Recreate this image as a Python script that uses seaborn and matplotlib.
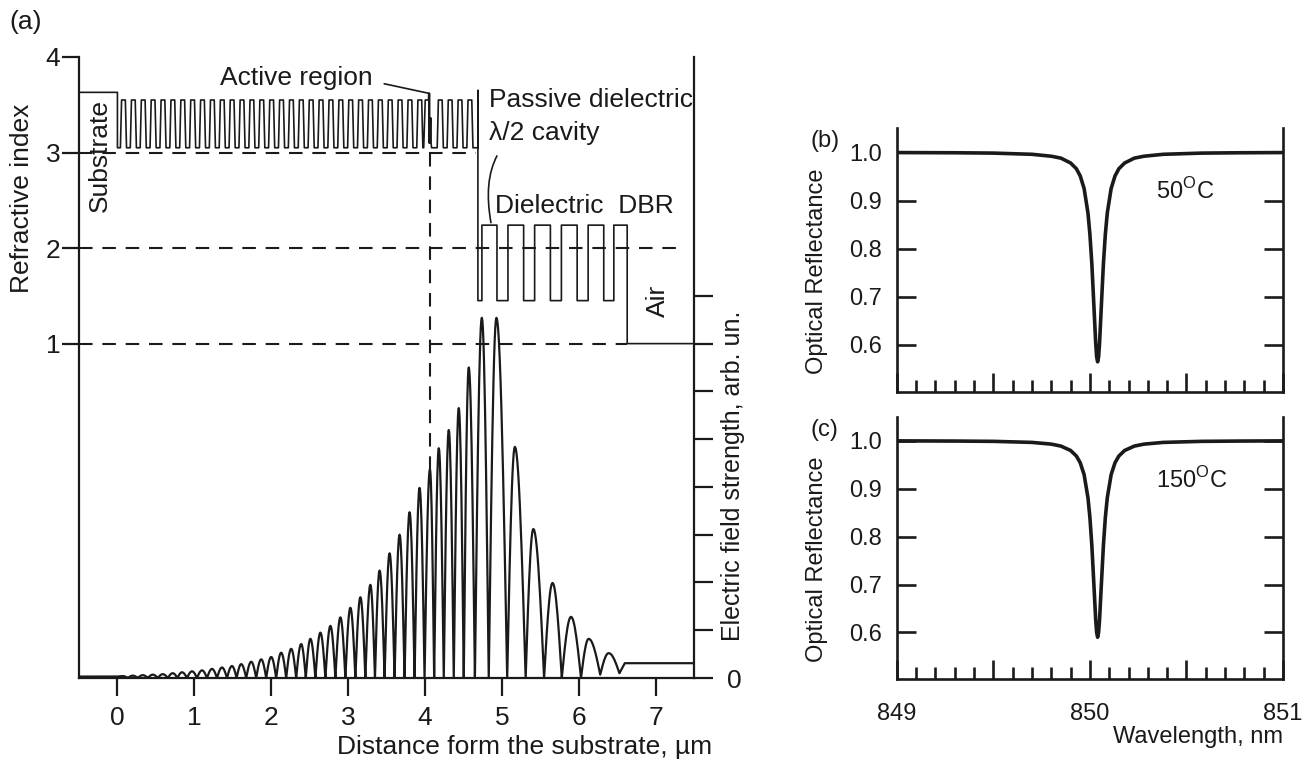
import numpy as np
import matplotlib
matplotlib.use("Agg")
import matplotlib.pyplot as plt
import seaborn as sns
from matplotlib.path import Path
from matplotlib.patches import PathPatch
from matplotlib.ticker import MultipleLocator

# ------------------------------------------------------------------ data
# (a) refractive-index profile (layer structure)
substrate_n = 3.63
substrate_end = 0.0
sc_dbr_high = 3.55
sc_dbr_low = 3.05
sc_dbr_period = 0.1285
sc_dbr_pairs_lower = 31
sc_dbr_pairs_upper = 4
upper_dbr_start = 4.121
active_x = [3.984, 4.004, 4.046, 4.050, 4.054, 4.058, 4.062, 4.062, 4.074, 4.074, 4.080,
            4.080, 4.086, 4.121]
active_n = [3.05, 3.55, 3.55, 3.62, 3.10, 3.62, 3.10, 3.30, 3.30, 3.36, 3.36, 3.10, 3.05,
            3.05]
cavity_x = 4.689
cavity_top_n = 3.65
diel_bounds = [4.689, 4.741, 4.937, 5.080, 5.284, 5.427, 5.632, 5.775, 5.980,
               6.123, 6.326, 6.457, 6.631]
diel_n = [1.45, 2.24, 1.45, 2.24, 1.45, 2.24, 1.45, 2.24, 1.45, 2.24, 1.45, 2.24]
air_n = 1.0
x_end = 7.5

# (a) electric field (right axis units, one tick = 1)
field_peak_x = [0.07, 0.20, 0.33, 0.46, 0.59, 0.72, 0.84, 0.97, 1.10, 1.23, 1.36, 1.49,
                1.61, 1.74, 1.87, 2.00, 2.13, 2.26, 2.39, 2.51, 2.64, 2.77, 2.90, 3.03,
                3.16, 3.29, 3.41, 3.54, 3.67, 3.80, 3.93, 4.065, 4.18, 4.31, 4.44, 4.57,
                4.74, 4.93, 5.17, 5.41, 5.66, 5.90, 6.13, 6.39]
field_peak_u = [0.04, 0.05, 0.06, 0.07, 0.08, 0.10, 0.12, 0.14, 0.16, 0.19, 0.22, 0.25,
                0.29, 0.34, 0.39, 0.44, 0.53, 0.61, 0.71, 0.82, 0.95, 1.09, 1.27, 1.47,
                1.69, 1.95, 2.25, 2.61, 3.00, 3.47, 3.98, 4.37, 4.81, 5.19, 5.65, 6.50,
                7.54, 7.54, 4.84, 3.12, 1.99, 1.28, 0.82, 0.52]
field_node_x = [0.00, 0.135, 0.265, 0.395, 0.525, 0.655, 0.78, 0.905, 1.035, 1.165, 1.295,
                1.425, 1.55, 1.675, 1.805, 1.935, 2.065, 2.195, 2.325, 2.45, 2.575, 2.705,
                2.835, 2.965, 3.095, 3.225, 3.35, 3.475, 3.605, 3.735, 3.865, 3.995, 4.12,
                4.245, 4.375, 4.505, 4.65, 4.83, 5.07, 5.31, 5.55, 5.78, 6.03, 6.28, 6.53]
field_node_u = [0.03] + [0.0] * 42 + [0.07, 0.10]
substrate_field_u = 0.03
tail_x = 6.60
tail_u = 0.31

x_ticks_a = [0, 1, 2, 3, 4, 5, 6, 7]
n_ticks = [1, 2, 3, 4]
field_ticks = [0, 1, 2, 3, 4, 5, 6, 7, 8]

# (b), (c) reflectance spectra
wl_b = [849.0, 849.3, 849.5, 849.7, 849.8, 849.85, 849.9, 849.93, 849.95, 849.97, 849.99,
        850.0, 850.01, 850.02, 850.03, 850.035, 850.04, 850.045, 850.05, 850.06, 850.07,
        850.08, 850.09, 850.11, 850.13, 850.15, 850.18, 850.23, 850.28, 850.38, 850.58,
        850.78, 851.0]
R_b = [0.9996, 0.9992, 0.9985, 0.996, 0.992, 0.988, 0.978, 0.966, 0.951, 0.925, 0.874,
       0.830, 0.769, 0.687, 0.604, 0.575, 0.565, 0.575, 0.604, 0.687, 0.769, 0.830, 0.874,
       0.925, 0.951, 0.966, 0.978, 0.988, 0.992, 0.996, 0.9985, 0.9992, 0.9996]
wl_c = list(wl_b)
R_c = [0.9996, 0.9992, 0.9986, 0.9964, 0.9928, 0.9887, 0.9796, 0.968, 0.9539, 0.9292,
       0.8808, 0.840, 0.7818, 0.705, 0.6265, 0.600, 0.590, 0.600, 0.6265, 0.705, 0.7818,
       0.840, 0.8808, 0.9292, 0.9539, 0.968, 0.9796, 0.9887, 0.9928, 0.9964, 0.9986,
       0.9992, 0.9996]
wl_major = [849, 849.5, 850, 850.5, 851]
wl_labels = ["849", "", "850", "", "851"]
R_ticks = [0.6, 0.7, 0.8, 0.9, 1.0]

# ------------------------------------------------------------------ style
sns.set_theme(style="ticks")
plt.rcParams["font.family"] = ["Liberation Sans", "DejaVu Sans"]
plt.rcParams["mathtext.fontset"] = "custom"
plt.rcParams["mathtext.rm"] = "Liberation Sans"
INK = "#1a1a1a"
W, H = 1308, 761
FA = 19   # font size panel (a)
FB = 17   # font size panels (b), (c)


def fx(px):
    return px / W


def fy(py):
    return 1 - py / H


fig = plt.figure(figsize=(W / 100, H / 100), dpi=100)
fig.patch.set_facecolor("white")

# ------------------------------------------------------------------ panel (a)
ax = fig.add_axes([fx(79), fy(678), (694 - 79) / W, (678 - 57) / H])
ax.set_facecolor("none")
ax.set_xlim(-0.5, x_end)
ax.set_ylim(-2.5, 4.0)


def dbr_vertices(x0, period, pairs, nh, nl):
    xs, ns = [], []
    for k in range(pairs):
        b = x0 + k * period
        for f, n in ((0.0, nl), (0.30, nl), (0.42, nh), (0.80, nh), (0.92, nl)):
            xs.append(b + f * period)
            ns.append(n)
    xs.append(x0 + pairs * period)
    ns.append(nl)
    return xs, ns


px_ = [-0.5, substrate_end, substrate_end]
pn_ = [substrate_n, substrate_n, sc_dbr_low]
lx, ln = dbr_vertices(substrate_end, sc_dbr_period, sc_dbr_pairs_lower, sc_dbr_high, sc_dbr_low)
px_ += lx
pn_ += ln
px_ += active_x
pn_ += active_n
ux, un = dbr_vertices(upper_dbr_start, sc_dbr_period, sc_dbr_pairs_upper, sc_dbr_high, sc_dbr_low)
px_ += ux
pn_ += un
px_ += [cavity_x, cavity_x, cavity_x]
pn_ += [sc_dbr_low, cavity_top_n, diel_n[0]]
for i in range(len(diel_n)):
    px_ += [diel_bounds[i], diel_bounds[i + 1]]
    pn_ += [diel_n[i], diel_n[i]]
px_ += [diel_bounds[-1], x_end]
pn_ += [air_n, air_n]

# dashed guides
dash = dict(color=INK, lw=1.5, dashes=(6.5, 4.7))
ax.plot([-0.5, 4.66], [3, 3], **dash)
ax.plot([-0.5, 7.3], [2, 2], **dash)
ax.plot([-0.5, diel_bounds[-1]], [1, 1], **dash)
peak_idx = field_peak_x.index(4.065)
ax.plot([4.065, 4.065], [3.0, -2.5 + 0.5 * field_peak_u[peak_idx]], **dash)

sns.lineplot(x=px_, y=pn_, ax=ax, sort=False, estimator=None, color=INK, linewidth=1.2)

# field curve on twin axis
axf = ax.twinx()
axf.set_ylim(0, 13)
fxs = [-0.5, field_node_x[0]]
fus = [substrate_field_u, field_node_u[0]]
t = np.linspace(0, 1, 14)[1:]
for i in range(len(field_peak_x)):
    n0, a = field_node_x[i], field_node_u[i]
    p, h = field_peak_x[i], field_peak_u[i]
    n1, b = field_node_x[i + 1], field_node_u[i + 1]
    fxs += list(n0 + (p - n0) * t)
    fus += list(a + (h - a) * np.sin(np.pi / 2 * t))
    fxs += list(p + (n1 - p) * t)
    fus += list(b + (h - b) * np.cos(np.pi / 2 * t))
fxs += [tail_x, x_end]
fus += [tail_u, tail_u]
sns.lineplot(x=fxs, y=fus, ax=axf, sort=False, estimator=None, color=INK, linewidth=1.6)

for s in ("top", "right"):
    ax.spines[s].set_visible(False)
for s in ("top", "left", "bottom"):
    axf.spines[s].set_visible(False)
for sp in (ax.spines["left"], ax.spines["bottom"], axf.spines["right"]):
    sp.set_linewidth(1.6)
    sp.set_color(INK)

ax.set_xticks(x_ticks_a)
ax.set_xticklabels([str(v) for v in x_ticks_a])
ax.set_yticks(n_ticks)
ax.set_yticklabels([str(v) for v in n_ticks])
ax.tick_params(axis="x", direction="out", length=13, width=1.6, pad=7, labelsize=FA, colors=INK)
ax.tick_params(axis="y", direction="out", length=12, width=1.6, pad=1.5, labelsize=FA, colors=INK)
axf.set_yticks(field_ticks)
axf.set_yticklabels(["0"] + [""] * (len(field_ticks) - 1))
axf.tick_params(axis="y", direction="out", length=13.5, width=1.6, pad=10, labelsize=FA, colors=INK)
ax.set_xlabel("")
ax.set_ylabel("")
axf.set_ylabel("")

# annotations (a)
ax.text(-0.235, 2.97, "Substrate", rotation=90, ha="center", va="center", fontsize=FA, color=INK)
ax.text(2.33, 3.78, "Active region", ha="center", va="center", fontsize=FA, color=INK)
ax.plot([3.47, 4.05], [3.72, 3.62], color=INK, lw=1.2)
ax.text(4.83, 3.55, "Passive dielectric", ha="left", va="center", fontsize=FA, color=INK)
ax.text(4.83, 3.20, "λ/2 cavity", ha="left", va="center", fontsize=FA, color=INK)
leader = Path([(4.94, 2.97), (4.76, 2.70), (4.86, 2.26)], [Path.MOVETO, Path.CURVE3, Path.CURVE3])
ax.add_patch(PathPatch(leader, fc="none", ec=INK, lw=1.2))
ax.text(4.91, 2.44, "Dielectric  DBR", ha="left", va="center", fontsize=FA, color=INK)
ax.text(7.03, 1.45, "Air", rotation=90, ha="center", va="center", fontsize=FA, color=INK)

fig.text(fx(26), fy(22), "(a)", ha="center", va="center", fontsize=FA, color=INK)
fig.text(fx(22), fy(198), "Refractive index", rotation=90, ha="center", va="center",
         fontsize=FA, color=INK)
fig.text(fx(733), fy(476), "Electric field strength, arb. un.", rotation=90, ha="center",
         va="center", fontsize=18, color=INK)
fig.text(fx(712), fy(747), "Distance form the substrate, µm", ha="right", va="center",
         fontsize=FA, color=INK)

# ------------------------------------------------------------------ panels (b), (c)
axb = fig.add_axes([fx(896.8), fy(391.7), (1283 - 896.8) / W, (391.7 - 128.3) / H])
axc = fig.add_axes([fx(896.8), fy(679), (1283 - 896.8) / W, (679 - 416.7) / H])

for a_, wl, R in ((axb, wl_b, R_b), (axc, wl_c, R_c)):
    sns.lineplot(x=wl, y=R, ax=a_, sort=False, estimator=None, color=INK, linewidth=2.6)
    a_.set_xlim(849, 851)
    a_.set_ylim(0.503, 1.05)
    a_.spines["top"].set_visible(False)
    for s in ("left", "right", "bottom"):
        a_.spines[s].set_linewidth(1.9)
        a_.spines[s].set_color(INK)
    a_.set_xticks(wl_major)
    a_.set_xticklabels(wl_labels)
    a_.xaxis.set_minor_locator(MultipleLocator(0.1))
    a_.set_yticks(R_ticks)
    a_.set_yticklabels([f"{v:.1f}" for v in R_ticks])
    a_.tick_params(axis="y", which="major", direction="in", length=13.4, width=1.9,
                   left=True, right=True, labelleft=True, labelright=False, pad=11,
                   labelsize=FB, colors=INK)
    a_.tick_params(axis="x", which="major", direction="in", length=13.7, width=1.9,
                   pad=17, labelsize=FB, colors=INK)
    a_.tick_params(axis="x", which="minor", direction="in", length=8.6, width=1.9,
                   colors=INK)
    a_.set_xlabel("")
    a_.set_ylabel("")
axb.tick_params(axis="x", which="both", labelbottom=False)

fig.text(fx(825), fy(141), "(b)", ha="center", va="center", fontsize=FB, color=INK)
fig.text(fx(824), fy(430), "(c)", ha="center", va="center", fontsize=FB, color=INK)
fig.text(fx(817), fy(271), "Optical Reflectance", rotation=90, ha="center", va="center",
         fontsize=FB, color=INK)
fig.text(fx(817), fy(559), "Optical Reflectance", rotation=90, ha="center", va="center",
         fontsize=FB, color=INK)
axb.text(850.34, 0.92, "50$^{\\mathrm{O}}$C", ha="left", va="center", fontsize=FB, color=INK)
axc.text(850.34, 0.919, "150$^{\\mathrm{O}}$C", ha="left", va="center", fontsize=FB, color=INK)
fig.text(fx(1283), fy(737), "Wavelength, nm", ha="right", va="center", fontsize=FB, color=INK)

fig.savefig("out.png", dpi=100, facecolor="white")
